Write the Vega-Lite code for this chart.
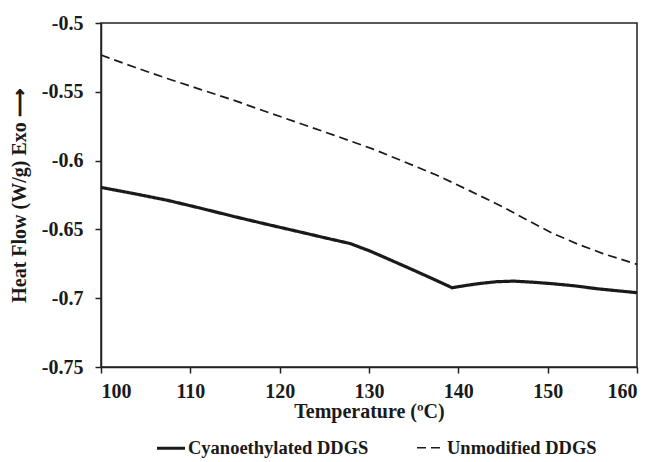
{
  "$schema": "https://vega.github.io/schema/vega-lite/v6.json",
  "width": 536,
  "height": 344,
  "autosize": "none",
  "padding": {"left": 101, "top": 23, "right": 19, "bottom": 95},
  "background": "white",
  "config": {
    "font": "Times New Roman",
    "view": {"stroke": "#222", "strokeWidth": 1.5},
    "axis": {
      "grid": false,
      "domainColor": "#222",
      "domainWidth": 1.5,
      "tickColor": "#222",
      "tickWidth": 1.5,
      "tickSize": 6,
      "labelFont": "Times New Roman",
      "labelFontWeight": "bold",
      "labelFontSize": 20,
      "labelColor": "#1a1a1a",
      "titleFont": "Times New Roman",
      "titleFontWeight": "bold",
      "titleFontSize": 20,
      "titleColor": "#1a1a1a"
    },
    "legend": {
      "labelFont": "Times New Roman",
      "labelFontWeight": "bold",
      "labelFontSize": 18.5,
      "labelColor": "#1a1a1a",
      "labelLimit": 400
    }
  },
  "data": {
    "values": [
      {"T": 100, "v": -0.6195, "s": "Cyanoethylated DDGS"},
      {"T": 103.7, "v": -0.6240, "s": "Cyanoethylated DDGS"},
      {"T": 107.4, "v": -0.6288, "s": "Cyanoethylated DDGS"},
      {"T": 111.1, "v": -0.6345, "s": "Cyanoethylated DDGS"},
      {"T": 114.8, "v": -0.6405, "s": "Cyanoethylated DDGS"},
      {"T": 118.5, "v": -0.6462, "s": "Cyanoethylated DDGS"},
      {"T": 122.3, "v": -0.6519, "s": "Cyanoethylated DDGS"},
      {"T": 125.0, "v": -0.6560, "s": "Cyanoethylated DDGS"},
      {"T": 127.9, "v": -0.6603, "s": "Cyanoethylated DDGS"},
      {"T": 130.1, "v": -0.6657, "s": "Cyanoethylated DDGS"},
      {"T": 132.5, "v": -0.6725, "s": "Cyanoethylated DDGS"},
      {"T": 134.6, "v": -0.6785, "s": "Cyanoethylated DDGS"},
      {"T": 137.0, "v": -0.6855, "s": "Cyanoethylated DDGS"},
      {"T": 139.3, "v": -0.6924, "s": "Cyanoethylated DDGS"},
      {"T": 140.8, "v": -0.6908, "s": "Cyanoethylated DDGS"},
      {"T": 142.4, "v": -0.6893, "s": "Cyanoethylated DDGS"},
      {"T": 144.3, "v": -0.6880, "s": "Cyanoethylated DDGS"},
      {"T": 146.2, "v": -0.6876, "s": "Cyanoethylated DDGS"},
      {"T": 148.4, "v": -0.6884, "s": "Cyanoethylated DDGS"},
      {"T": 150.6, "v": -0.6895, "s": "Cyanoethylated DDGS"},
      {"T": 153.0, "v": -0.6910, "s": "Cyanoethylated DDGS"},
      {"T": 155.5, "v": -0.6931, "s": "Cyanoethylated DDGS"},
      {"T": 157.8, "v": -0.6946, "s": "Cyanoethylated DDGS"},
      {"T": 160, "v": -0.6960, "s": "Cyanoethylated DDGS"},
      {"T": 100, "v": -0.5233, "s": "Unmodified DDGS"},
      {"T": 103.7, "v": -0.5320, "s": "Unmodified DDGS"},
      {"T": 107.4, "v": -0.5403, "s": "Unmodified DDGS"},
      {"T": 111.1, "v": -0.5482, "s": "Unmodified DDGS"},
      {"T": 114.8, "v": -0.5560, "s": "Unmodified DDGS"},
      {"T": 118.5, "v": -0.5645, "s": "Unmodified DDGS"},
      {"T": 122.3, "v": -0.5730, "s": "Unmodified DDGS"},
      {"T": 126.5, "v": -0.5825, "s": "Unmodified DDGS"},
      {"T": 130.4, "v": -0.5915, "s": "Unmodified DDGS"},
      {"T": 134.0, "v": -0.6010, "s": "Unmodified DDGS"},
      {"T": 137.6, "v": -0.6106, "s": "Unmodified DDGS"},
      {"T": 141.3, "v": -0.6220, "s": "Unmodified DDGS"},
      {"T": 145.0, "v": -0.6337, "s": "Unmodified DDGS"},
      {"T": 147.8, "v": -0.6435, "s": "Unmodified DDGS"},
      {"T": 150.6, "v": -0.6530, "s": "Unmodified DDGS"},
      {"T": 153.4, "v": -0.6608, "s": "Unmodified DDGS"},
      {"T": 156.2, "v": -0.6676, "s": "Unmodified DDGS"},
      {"T": 160, "v": -0.6754, "s": "Unmodified DDGS"}
    ]
  },
  "mark": {"type": "line", "color": "#1a1a1a", "strokeCap": "butt"},
  "encoding": {
    "x": {
      "field": "T",
      "type": "quantitative",
      "scale": {"domain": [100, 160], "nice": false},
      "axis": {"values": [100, 110, 120, 130, 140, 150, 160], "title": "Temperature (ºC)", "labelPadding": 8, "titlePadding": 0}
    },
    "y": {
      "field": "v",
      "type": "quantitative",
      "scale": {"domain": [-0.75, -0.5], "nice": false, "zero": false},
      "axis": {"values": [-0.75, -0.7, -0.65, -0.6, -0.55, -0.5], "labelExpr": "replace(format(datum.value, '.2~f'), '\u2212', '-')", "title": "Heat Flow (W/g) Exo ⟶", "labelPadding": 12, "titlePadding": 12}
    },
    "strokeDash": {
      "field": "s",
      "type": "nominal",
      "scale": {"domain": ["Cyanoethylated DDGS", "Unmodified DDGS"], "range": [[1, 0], [9, 5]]},
      "legend": {"title": null, "orient": "none", "legendX": 54, "legendY": 409, "direction": "horizontal", "symbolType": "stroke", "symbolSize": 784, "symbolStrokeColor": "#1a1a1a", "columnPadding": 44, "labelOffset": 1}
    },
    "strokeWidth": {
      "field": "s",
      "type": "nominal",
      "scale": {"domain": ["Cyanoethylated DDGS", "Unmodified DDGS"], "range": [3.2, 1.7]},
      "legend": {"title": null, "orient": "none", "legendX": 54, "legendY": 409, "direction": "horizontal", "symbolType": "stroke", "symbolSize": 784, "symbolStrokeColor": "#1a1a1a", "columnPadding": 44, "labelOffset": 1}
    }
  }
}
